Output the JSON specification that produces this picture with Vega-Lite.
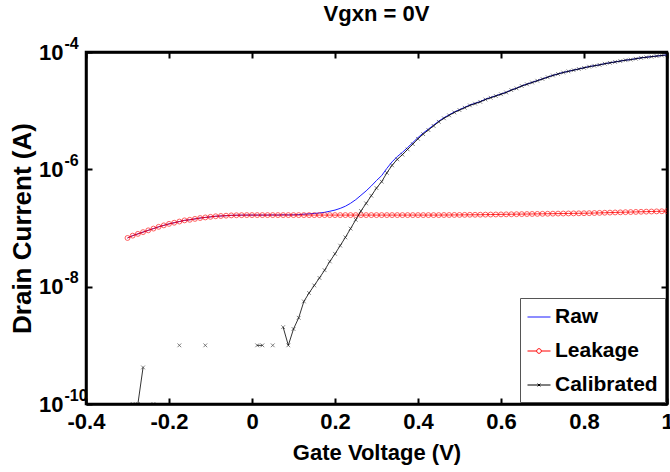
{
  "$schema": "https://vega.github.io/schema/vega-lite/v6.json",
  "width": 581,
  "height": 352,
  "autosize": "none",
  "padding": {"left": 86, "top": 52, "right": 3, "bottom": 68},
  "background": "white",
  "title": {"text": "Vgxn = 0V", "font": "Liberation Sans", "fontSize": 22, "fontWeight": "bold", "color": "black", "anchor": "middle", "offset": 9},
  "config": {
    "view": {"stroke": "black", "strokeWidth": 2.5},
    "axis": {"grid": false, "domainColor": "black", "domainWidth": 2.5, "tickColor": "black", "tickWidth": 2, "tickSize": -6, "labelFont": "Liberation Sans", "labelFontWeight": "bold", "labelColor": "black", "titleFont": "Liberation Sans", "titleFontWeight": "bold", "titleColor": "black", "labelFlush": false, "labelOverlap": false}
  },
  "data": {"values": [
    {"V": -0.3, "leak": 6.76e-8, "raw": 6.76e-8, "cal": null},
    {"V": -0.2875, "leak": 7.41e-8, "raw": 7.41e-8, "cal": 1.0e-10},
    {"V": -0.275, "leak": 7.94e-8, "raw": 7.94e-8, "cal": 1.0e-10},
    {"V": -0.2625, "leak": 8.51e-8, "raw": 8.51e-8, "cal": 4.2e-10},
    {"V": -0.25, "leak": 9.12e-8, "raw": 9.12e-8, "cal": null},
    {"V": -0.2375, "leak": 9.77e-8, "raw": 9.77e-8, "cal": 1.0e-10},
    {"V": -0.225, "leak": 1.047e-7, "raw": 1.047e-7, "cal": null},
    {"V": -0.2125, "leak": 1.109e-7, "raw": 1.109e-7, "cal": null},
    {"V": -0.2, "leak": 1.175e-7, "raw": 1.175e-7, "cal": null},
    {"V": -0.1875, "leak": 1.23e-7, "raw": 1.23e-7, "cal": null},
    {"V": -0.175, "leak": 1.288e-7, "raw": 1.288e-7, "cal": 1.0e-9},
    {"V": -0.1625, "leak": 1.349e-7, "raw": 1.349e-7, "cal": null},
    {"V": -0.15, "leak": 1.38e-7, "raw": 1.38e-7, "cal": null},
    {"V": -0.1375, "leak": 1.429e-7, "raw": 1.429e-7, "cal": null},
    {"V": -0.125, "leak": 1.479e-7, "raw": 1.479e-7, "cal": null},
    {"V": -0.1125, "leak": 1.514e-7, "raw": 1.514e-7, "cal": 1.0e-9},
    {"V": -0.1, "leak": 1.549e-7, "raw": 1.549e-7, "cal": null},
    {"V": -0.0875, "leak": 1.585e-7, "raw": 1.585e-7, "cal": null},
    {"V": -0.075, "leak": 1.603e-7, "raw": 1.603e-7, "cal": null},
    {"V": -0.0625, "leak": 1.622e-7, "raw": 1.622e-7, "cal": null},
    {"V": -0.05, "leak": 1.641e-7, "raw": 1.641e-7, "cal": null},
    {"V": -0.0375, "leak": 1.65e-7, "raw": 1.65e-7, "cal": null},
    {"V": -0.025, "leak": 1.655e-7, "raw": 1.655e-7, "cal": null},
    {"V": -0.0125, "leak": 1.66e-7, "raw": 1.66e-7, "cal": null},
    {"V": 0, "leak": 1.66e-7, "raw": 1.66e-7, "cal": null},
    {"V": 0.0125, "leak": 1.66e-7, "raw": 1.66e-7, "cal": 1.0e-9},
    {"V": 0.025, "leak": 1.66e-7, "raw": 1.66e-7, "cal": 1.0e-9},
    {"V": 0.0375, "leak": 1.66e-7, "raw": 1.66e-7, "cal": null},
    {"V": 0.05, "leak": 1.66e-7, "raw": 1.67e-7, "cal": 1.0e-9},
    {"V": 0.0625, "leak": 1.66e-7, "raw": 1.66e-7, "cal": null},
    {"V": 0.075, "leak": 1.66e-7, "raw": 1.68e-7, "cal": 2.04e-9},
    {"V": 0.0875, "leak": 1.66e-7, "raw": 1.67e-7, "cal": 1.0e-9},
    {"V": 0.1, "leak": 1.66e-7, "raw": 1.68e-7, "cal": 1.9e-9},
    {"V": 0.1125, "leak": 1.66e-7, "raw": 1.69e-7, "cal": 2.95e-9},
    {"V": 0.125, "leak": 1.66e-7, "raw": 1.72e-7, "cal": 5.6e-9},
    {"V": 0.1375, "leak": 1.66e-7, "raw": 1.74e-7, "cal": 7.8e-9},
    {"V": 0.15, "leak": 1.66e-7, "raw": 1.77e-7, "cal": 1.05e-8},
    {"V": 0.1625, "leak": 1.66e-7, "raw": 1.8e-7, "cal": 1.41e-8},
    {"V": 0.175, "leak": 1.66e-7, "raw": 1.85e-7, "cal": 1.91e-8},
    {"V": 0.1875, "leak": 1.66e-7, "raw": 1.93e-7, "cal": 2.69e-8},
    {"V": 0.2, "leak": 1.66e-7, "raw": 2.02e-7, "cal": 3.63e-8},
    {"V": 0.2125, "leak": 1.66e-7, "raw": 2.16e-7, "cal": 5.01e-8},
    {"V": 0.225, "leak": 1.66e-7, "raw": 2.35e-7, "cal": 6.92e-8},
    {"V": 0.2375, "leak": 1.66e-7, "raw": 2.64e-7, "cal": 9.77e-8},
    {"V": 0.25, "leak": 1.66e-7, "raw": 3.04e-7, "cal": 1.38e-7},
    {"V": 0.2625, "leak": 1.66e-7, "raw": 3.61e-7, "cal": 1.95e-7},
    {"V": 0.275, "leak": 1.66e-7, "raw": 4.29e-7, "cal": 2.63e-7},
    {"V": 0.2875, "leak": 1.66e-7, "raw": 5.21e-7, "cal": 3.55e-7},
    {"V": 0.3, "leak": 1.66e-7, "raw": 6.45e-7, "cal": 4.79e-7},
    {"V": 0.3125, "leak": 1.66e-7, "raw": 7.83e-7, "cal": 6.17e-7},
    {"V": 0.325, "leak": 1.66e-7, "raw": 1.04e-6, "cal": 8.71e-7},
    {"V": 0.3375, "leak": 1.66e-7, "raw": 1.34e-6, "cal": 1.17e-6},
    {"V": 0.35, "leak": 1.66e-7, "raw": 1.65e-6, "cal": 1.48e-6},
    {"V": 0.3625, "leak": 1.66e-7, "raw": 1.95e-6, "cal": 1.78e-6},
    {"V": 0.375, "leak": 1.66e-7, "raw": 2.36e-6, "cal": 2.19e-6},
    {"V": 0.3875, "leak": 1.66e-7, "raw": 2.86e-6, "cal": 2.69e-6},
    {"V": 0.4, "leak": 1.66e-7, "raw": 3.48e-6, "cal": 3.31e-6},
    {"V": 0.4125, "leak": 1.66e-7, "raw": 4.15e-6, "cal": 3.98e-6},
    {"V": 0.425, "leak": 1.66e-7, "raw": 4.85e-6, "cal": 4.68e-6},
    {"V": 0.4375, "leak": 1.66e-7, "raw": 5.67e-6, "cal": 5.5e-6},
    {"V": 0.45, "leak": 1.66e-7, "raw": 6.63e-6, "cal": 6.46e-6},
    {"V": 0.4625, "leak": 1.665e-7, "raw": 7.58e-6, "cal": 7.41e-6},
    {"V": 0.475, "leak": 1.665e-7, "raw": 8.49e-6, "cal": 8.32e-6},
    {"V": 0.4875, "leak": 1.67e-7, "raw": 9.5e-6, "cal": 9.33e-6},
    {"V": 0.5, "leak": 1.67e-7, "raw": 1.04e-5, "cal": 1.023e-5},
    {"V": 0.5125, "leak": 1.675e-7, "raw": 1.139e-5, "cal": 1.122e-5},
    {"V": 0.525, "leak": 1.68e-7, "raw": 1.247e-5, "cal": 1.23e-5},
    {"V": 0.5375, "leak": 1.68e-7, "raw": 1.335e-5, "cal": 1.318e-5},
    {"V": 0.55, "leak": 1.685e-7, "raw": 1.43e-5, "cal": 1.413e-5},
    {"V": 0.5625, "leak": 1.69e-7, "raw": 1.566e-5, "cal": 1.549e-5},
    {"V": 0.575, "leak": 1.695e-7, "raw": 1.677e-5, "cal": 1.66e-5},
    {"V": 0.5875, "leak": 1.7e-7, "raw": 1.795e-5, "cal": 1.778e-5},
    {"V": 0.6, "leak": 1.705e-7, "raw": 1.922e-5, "cal": 1.905e-5},
    {"V": 0.6125, "leak": 1.71e-7, "raw": 2.059e-5, "cal": 2.042e-5},
    {"V": 0.625, "leak": 1.715e-7, "raw": 2.256e-5, "cal": 2.239e-5},
    {"V": 0.6375, "leak": 1.72e-7, "raw": 2.416e-5, "cal": 2.399e-5},
    {"V": 0.65, "leak": 1.725e-7, "raw": 2.647e-5, "cal": 2.63e-5},
    {"V": 0.6625, "leak": 1.73e-7, "raw": 2.835e-5, "cal": 2.818e-5},
    {"V": 0.675, "leak": 1.735e-7, "raw": 3.037e-5, "cal": 3.02e-5},
    {"V": 0.6875, "leak": 1.74e-7, "raw": 3.253e-5, "cal": 3.236e-5},
    {"V": 0.7, "leak": 1.745e-7, "raw": 3.484e-5, "cal": 3.467e-5},
    {"V": 0.7125, "leak": 1.75e-7, "raw": 3.732e-5, "cal": 3.715e-5},
    {"V": 0.725, "leak": 1.755e-7, "raw": 3.998e-5, "cal": 3.981e-5},
    {"V": 0.7375, "leak": 1.76e-7, "raw": 4.234e-5, "cal": 4.217e-5},
    {"V": 0.75, "leak": 1.765e-7, "raw": 4.484e-5, "cal": 4.467e-5},
    {"V": 0.7625, "leak": 1.77e-7, "raw": 4.694e-5, "cal": 4.677e-5},
    {"V": 0.775, "leak": 1.775e-7, "raw": 4.915e-5, "cal": 4.898e-5},
    {"V": 0.7875, "leak": 1.78e-7, "raw": 5.146e-5, "cal": 5.129e-5},
    {"V": 0.8, "leak": 1.785e-7, "raw": 5.387e-5, "cal": 5.37e-5},
    {"V": 0.8125, "leak": 1.79e-7, "raw": 5.64e-5, "cal": 5.623e-5},
    {"V": 0.825, "leak": 1.8e-7, "raw": 5.838e-5, "cal": 5.821e-5},
    {"V": 0.8375, "leak": 1.81e-7, "raw": 6.043e-5, "cal": 6.026e-5},
    {"V": 0.85, "leak": 1.82e-7, "raw": 6.327e-5, "cal": 6.31e-5},
    {"V": 0.8625, "leak": 1.83e-7, "raw": 6.548e-5, "cal": 6.531e-5},
    {"V": 0.875, "leak": 1.84e-7, "raw": 6.778e-5, "cal": 6.761e-5},
    {"V": 0.8875, "leak": 1.85e-7, "raw": 7.015e-5, "cal": 6.998e-5},
    {"V": 0.9, "leak": 1.86e-7, "raw": 7.261e-5, "cal": 7.244e-5},
    {"V": 0.9125, "leak": 1.87e-7, "raw": 7.43e-5, "cal": 7.413e-5},
    {"V": 0.925, "leak": 1.88e-7, "raw": 7.691e-5, "cal": 7.674e-5},
    {"V": 0.9375, "leak": 1.89e-7, "raw": 7.96e-5, "cal": 7.943e-5},
    {"V": 0.95, "leak": 1.9e-7, "raw": 8.145e-5, "cal": 8.128e-5},
    {"V": 0.9625, "leak": 1.91e-7, "raw": 8.335e-5, "cal": 8.318e-5},
    {"V": 0.975, "leak": 1.92e-7, "raw": 8.528e-5, "cal": 8.511e-5},
    {"V": 0.9875, "leak": 1.93e-7, "raw": 8.727e-5, "cal": 8.71e-5},
    {"V": 1.0, "leak": 1.94e-7, "raw": 8.93e-5, "cal": 8.913e-5}
  ]},
  "resolve": {"axis": {"x": "independent", "y": "independent"}},
  "layer": [
    {
      "mark": {"type": "line", "strokeWidth": 1, "clip": true},
      "encoding": {
        "x": {"field": "V", "type": "quantitative", "scale": {"domain": [-0.4, 1], "nice": false, "zero": false},
              "axis": {"orient": "bottom", "values": [-0.4, -0.2, 0, 0.2, 0.4, 0.6, 0.8, 1], "labelExpr": "'' + datum.value", "labelFontSize": 22, "labelPadding": 13, "title": "Gate Voltage (V)", "titleFontSize": 22, "titlePadding": 10}},
        "y": {"field": "raw", "type": "quantitative", "scale": {"type": "log", "domain": [1e-10, 1e-4], "nice": false},
              "axis": {"orient": "left", "values": [1e-10, 1e-8, 1e-6, 1e-4], "labelExpr": "'10'", "labelFontSize": 22, "labelPadding": 29, "labelBaseline": "middle", "title": "Drain Current (A)", "titleFontSize": 26, "titlePadding": 3}},
        "color": {"datum": "Raw", "type": "nominal",
                  "scale": {"domain": ["Raw", "Leakage", "Calibrated"], "range": ["#1a1aff", "#ff0000", "#000000"]},
                  "legend": {"title": null, "orient": "bottom-right", "offset": 2, "padding": 7, "fillColor": "white", "strokeColor": "#555555", "labelFont": "Liberation Sans", "labelFontSize": 21, "labelFontWeight": "bold", "labelColor": "black", "labelOffset": 4, "rowPadding": 12, "symbolSize": 529, "symbolStrokeWidth": 1,
                    "encode": {"symbols": {"update": {
                      "shape": {"signal": "datum.value == 'Raw' ? 'M-1,0H1' : datum.value == 'Leakage' ? 'M-1,0H-0.2M0.2,0H1M-0.2,0A0.2,0.2 0 1,1 0.2,0A0.2,0.2 0 1,1 -0.2,0' : 'M-1,0H1M-0.12,-0.12L0.12,0.12M-0.12,0.12L0.12,-0.12'"},
                      "fill": {"value": "transparent"}}}}}}
      }
    },
    {
      "mark": {"type": "line", "strokeWidth": 0.8, "clip": true},
      "encoding": {
        "x": {"field": "V", "type": "quantitative", "axis": {"orient": "top", "values": [-0.4, -0.2, 0, 0.2, 0.4, 0.6, 0.8, 1], "labels": false, "title": null}},
        "y": {"field": "leak", "type": "quantitative", "axis": {"orient": "right", "values": [1e-10, 1e-8, 1e-6, 1e-4], "labels": false, "title": null}},
        "color": {"datum": "Leakage", "type": "nominal"}
      }
    },
    {
      "mark": {"type": "point", "filled": false, "size": 24, "strokeWidth": 0.9, "clip": true},
      "encoding": {
        "x": {"field": "V", "type": "quantitative", "axis": null},
        "y": {"field": "leak", "type": "quantitative",
              "axis": {"orient": "left", "values": [1e-10, 1e-8, 1e-6, 1e-4], "labelExpr": "datum.value > 5e-5 ? '-4' : datum.value > 5e-7 ? '-6' : datum.value > 5e-9 ? '-8' : '-10'", "labelFontSize": 16, "labelAlign": "left", "labelPadding": 22, "labelOffset": -9, "ticks": false, "domain": false, "title": null}},
        "color": {"datum": "Leakage", "type": "nominal"}
      }
    },
    {
      "mark": {"type": "line", "strokeWidth": 0.8, "clip": true, "invalid": "break-paths-filter-domains"},
      "encoding": {
        "x": {"field": "V", "type": "quantitative", "axis": null},
        "y": {"field": "cal", "type": "quantitative", "axis": null},
        "color": {"datum": "Calibrated", "type": "nominal"}
      }
    },
    {
      "mark": {"type": "point", "filled": false, "size": 14, "strokeWidth": 0.7, "shape": "M-1,-1L1,1M-1,1L1,-1", "clip": true},
      "encoding": {
        "x": {"field": "V", "type": "quantitative", "axis": null},
        "y": {"field": "cal", "type": "quantitative", "axis": null},
        "color": {"datum": "Calibrated", "type": "nominal"}
      }
    }
  ]
}
